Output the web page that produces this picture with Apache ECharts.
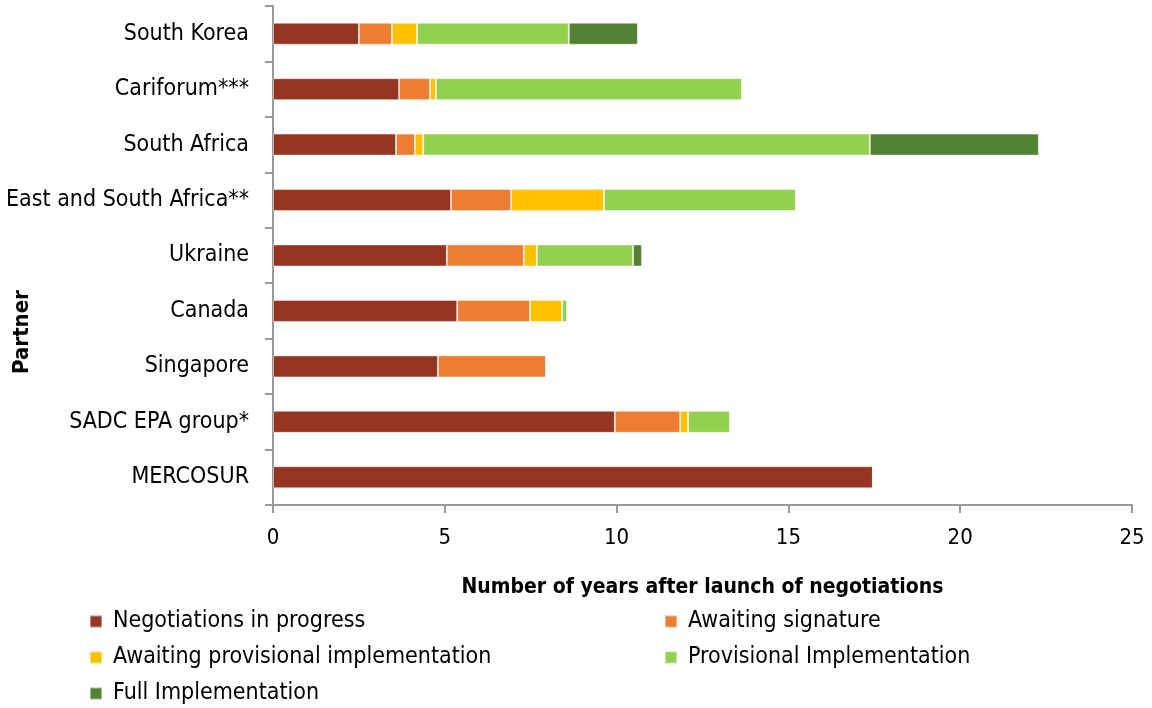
<!DOCTYPE html>
<html>
<head>
<meta charset="utf-8">
<script src="https://cdn.jsdelivr.net/npm/echarts@6/dist/echarts.min.js"></script>
<style>
html, body { margin: 0; padding: 0; background: #fff; }
#chart { width: 1152px; height: 708px; }
</style>
</head>
<body>
<div id="chart"></div>
<script>
var partners = ['South Korea', 'Cariforum***', 'South Africa', 'East and South Africa**', 'Ukraine', 'Canada', 'Singapore', 'SADC EPA group*', 'MERCOSUR'];

// years spent in each stage
var negotiations   = [2.50, 3.67, 3.58, 5.18, 5.06, 5.36, 4.80, 9.95, 17.46];
var awaitingSign   = [0.96, 0.90, 0.55, 1.75, 2.24, 2.12, 3.15, 1.90, 0];
var awaitingProv   = [0.73, 0.17, 0.24, 2.70, 0.38, 0.93, 0, 0.23, 0];
var provisionalImp = [4.42, 8.91, 13.00, 5.59, 2.80, 0.15, 0, 1.22, 0];
var fullImp        = [2.01, 0, 4.92, 0, 0.26, 0, 0, 0, 0];

var stageNames = ['Negotiations in progress', 'Awaiting signature', 'Awaiting provisional implementation', 'Provisional Implementation', 'Full Implementation'];
var stageColors = ['#953522', '#ED7D31', '#FFC000', '#92D050', '#548235'];
var stageData = [negotiations, awaitingSign, awaitingProv, provisionalImp, fullImp];

var font = "'DejaVu Sans Condensed', 'Liberation Sans Narrow', sans-serif";

var myChart = echarts.init(document.getElementById('chart'));

var series = stageNames.map(function (n, i) {
    return {
        name: n,
        type: 'bar',
        stack: 'total',
        barWidth: 22,
        data: stageData[i],
        itemStyle: {
            color: stageColors[i],
            borderColor: 'rgba(255,255,255,0.45)',
            borderWidth: 1
        }
    };
});

var legendText = { color: '#000', fontSize: 23, lineHeight: 22, fontFamily: font, padding: [0, 0, 0, 6] };

var option = {
    backgroundColor: '#fff',
    animation: false,
    grid: { left: 273, right: 20, top: 6, bottom: 203 },
    legend: [{
        data: [stageNames[0], stageNames[2], stageNames[4]],
        orient: 'vertical',
        left: 84, top: 605, height: 100,
        itemWidth: 12, itemHeight: 12, itemGap: 13,
        icon: 'rect',
        textStyle: legendText
    }, {
        data: [stageNames[1], stageNames[3]],
        orient: 'vertical',
        left: 659, top: 605, height: 100,
        itemWidth: 12, itemHeight: 12, itemGap: 13,
        icon: 'rect',
        textStyle: legendText
    }],
    xAxis: {
        type: 'value',
        min: 0, max: 25, interval: 5,
        name: 'Number of years after launch of negotiations',
        nameLocation: 'middle',
        nameGap: 72,
        nameTextStyle: { color: '#000', fontSize: 21, fontWeight: 'bold', fontFamily: font },
        axisLine: { show: true, lineStyle: { color: '#9a9a9a', width: 2 } },
        axisTick: { show: true, length: 8, lineStyle: { color: '#9a9a9a', width: 2 } },
        axisLabel: { color: '#000', fontSize: 22, fontFamily: font, margin: 22 },
        splitLine: { show: false }
    },
    yAxis: {
        type: 'category',
        inverse: true,
        data: partners,
        axisLine: { show: true, lineStyle: { color: '#9a9a9a', width: 2 } },
        axisTick: { show: true, length: 8, lineStyle: { color: '#9a9a9a', width: 2 } },
        axisLabel: { color: '#000', fontSize: 23, fontFamily: font, margin: 24 }
    },
    graphic: [{
        type: 'text',
        x: 22, y: 332,
        rotation: Math.PI / 2,
        style: {
            text: 'Partner',
            fill: '#000',
            font: "bold 22px 'DejaVu Sans Condensed', sans-serif",
            align: 'center',
            verticalAlign: 'middle'
        }
    }],
    series: series
};

myChart.setOption(option);
</script>
</body>
</html>
